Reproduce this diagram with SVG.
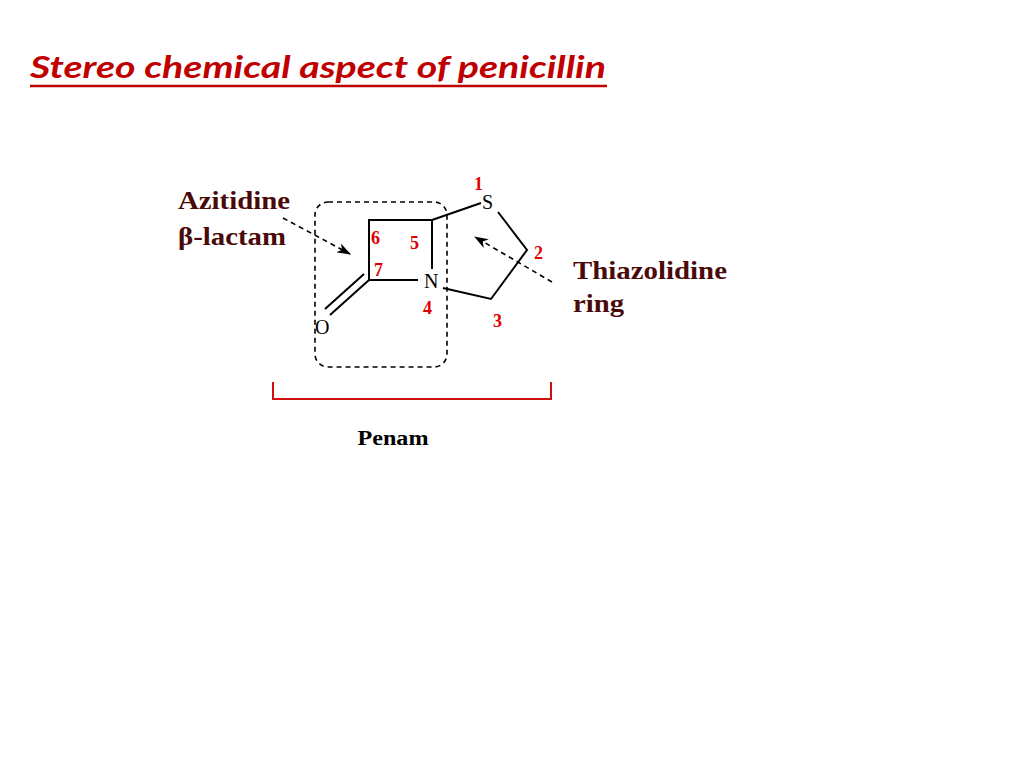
<svg xmlns="http://www.w3.org/2000/svg" width="1024" height="768" viewBox="0 0 1024 768">
<style>
.lbl{font-family:"Liberation Serif",serif;font-weight:bold;font-size:25px;fill:#4a0a0a}
.num{font-family:"Liberation Serif",serif;font-weight:bold;font-size:18px;fill:#e00000}
.atom{font-family:"Liberation Serif",serif;font-size:20px;fill:#000}
.bond{stroke:#000;stroke-width:2;fill:none}
.dash{stroke:#000;stroke-width:1.6;stroke-dasharray:5,4;fill:none}
</style>
<defs><marker id="ah" markerWidth="14" markerHeight="10" refX="13" refY="5" orient="auto" markerUnits="userSpaceOnUse"><path d="M0,0 L14,5 L0,10 L4,5 Z" fill="#000"/></marker></defs>
<rect width="1024" height="768" fill="#fff"/>
<g id="title"><text x="30" y="78" font-family="Lato,sans-serif" font-style="italic" font-weight="bold" font-size="31" fill="#c00000" textLength="576" lengthAdjust="spacingAndGlyphs">Stereo chemical aspect of penicillin</text><line x1="30" y1="86" x2="607" y2="86" stroke="#c00000" stroke-width="2.5"/></g>
<g id="molecule">
<path class="bond" d="M369,280 L369,220 L432,220 L432,269 M418,280 L369,280 M432,220 L481,203 M498,212 L527,250 L491,299 L443,288"/>
<path class="bond" d="M369,280 L330,315 M364,274 L325,309"/>
<text class="atom" x="424" y="288">N</text><text class="atom" x="482" y="209">S</text><text class="atom" x="315" y="334">O</text>
<text class="num" x="474" y="190">1</text><text class="num" x="534" y="259">2</text><text class="num" x="493" y="327">3</text><text class="num" x="423" y="314">4</text><text class="num" x="410" y="249">5</text><text class="num" x="371" y="244">6</text><text class="num" x="374" y="276">7</text>
</g>
<g id="lactam-box"><rect class="dash" x="315" y="202" width="132" height="165" rx="13"/></g>
<g id="azitidine"><text class="lbl" x="178" y="209" textLength="112" lengthAdjust="spacingAndGlyphs">Azitidine</text><text class="lbl" x="178" y="245" textLength="108" lengthAdjust="spacingAndGlyphs">β-lactam</text></g>
<g id="thiazolidine"><text class="lbl" x="573" y="279" textLength="154" lengthAdjust="spacingAndGlyphs">Thiazolidine</text><text class="lbl" x="573" y="312" textLength="51" lengthAdjust="spacingAndGlyphs">ring</text></g>
<g id="connectors">
<line class="dash" x1="283" y1="218" x2="350" y2="254" marker-end="url(#ah)"/>
<line class="dash" x1="552" y1="282" x2="475" y2="237" marker-end="url(#ah)"/>
</g>
<g id="penam"><path d="M273,382 L273,399 L551,399 L551,382" stroke="#d01010" stroke-width="2" fill="none"/><text x="393" y="445" text-anchor="middle" font-family="Liberation Serif,serif" font-weight="bold" font-size="20" fill="#000" textLength="71" lengthAdjust="spacingAndGlyphs">Penam</text></g>
</svg>
